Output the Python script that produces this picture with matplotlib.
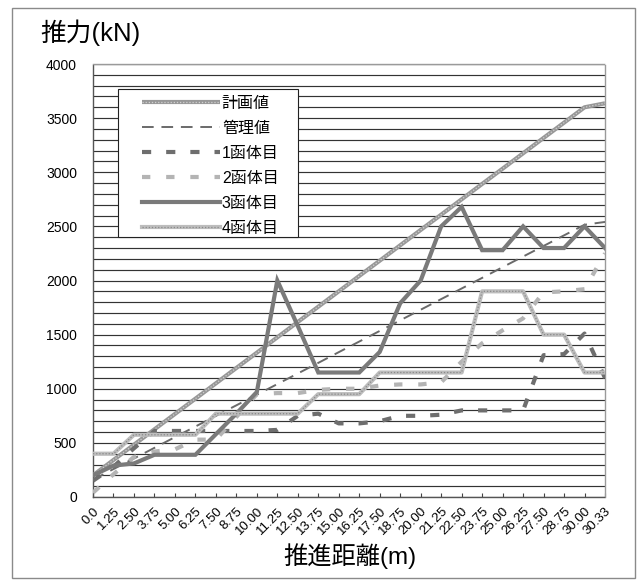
import matplotlib
matplotlib.use('Agg')
import matplotlib.pyplot as plt
import numpy as np
from matplotlib.legend_handler import HandlerTuple
from matplotlib.patches import Rectangle

plt.rcParams['font.family'] = ['Liberation Sans', 'Noto Sans CJK JP', 'DejaVu Sans']

# ---- data ----
dist_labels = ['0.0', '1.25', '2.50', '3.75', '5.00', '6.25', '7.50', '8.75', '10.00',
               '11.25', '12.50', '13.75', '15.00', '16.25', '17.50', '18.75', '20.00',
               '21.25', '22.50', '23.75', '25.00', '26.25', '27.50', '28.75', '30.00', '30.33']

series_names = ['計画値', '管理値', '1函体目', '2函体目', '3函体目', '4函体目']

plan = [200, 342, 483, 625, 767, 908, 1050, 1192, 1333, 1475, 1617, 1758, 1900,
        2042, 2183, 2325, 2467, 2608, 2750, 2892, 3033, 3175, 3317, 3458, 3600, 3637]
control = [160, 258, 356, 454, 553, 651, 749, 847, 945, 1043, 1141, 1239, 1338,
           1436, 1534, 1632, 1730, 1828, 1926, 2024, 2123, 2221, 2319, 2417, 2515, 2541]
unit1 = [150, 280, 450, 610, 610, 610, 610, 610, 610, 620, 750, 770, 680,
         680, 700, 750, 750, 760, 800, 800, 800, 800, 1310, 1320, 1510, 1100]
unit2 = [40, 210, 370, 420, 440, 530, 530, 740, 950, 960, 960, 990, 1000,
         1000, 1030, 1040, 1040, 1060, 1250, 1420, 1540, 1650, 1890, 1900, 1920, 2250]
unit3 = [200, 290, 310, 390, 390, 390, 580, 770, 970, 2000, 1580, 1150, 1150,
         1150, 1340, 1790, 2000, 2500, 2680, 2280, 2280, 2500, 2300, 2300, 2500, 2300]
unit4 = [400, 400, 575, 575, 575, 575, 770, 770, 770, 770, 770, 950, 950,
         950, 1150, 1150, 1150, 1150, 1150, 1900, 1900, 1900, 1500, 1500, 1150, 1150]

y_major = [0, 500, 1000, 1500, 2000, 2500, 3000, 3500, 4000]

W, H = 639, 581

# ---- figure ----
fig = plt.figure(figsize=(W / 100, H / 100), dpi=100)
fig.patches.append(Rectangle((12 / W, 3 / H), 623 / W, 570 / H, transform=fig.transFigure,
                             fill=False, edgecolor='#8a8a8a', linewidth=1.0))

ax = fig.add_axes([93 / W, 1 - 497 / H, 512 / W, 433 / H])
x = np.arange(len(dist_labels))

# gridlines every 100
ax.set_yticks(np.arange(0, 4001, 100), minor=True)
ax.set_yticks(y_major)
ax.grid(True, axis='y', which='both', color='#333333', linewidth=0.85)
ax.set_axisbelow(True)

h_plan_a, = ax.plot(x, plan, color='#989898', linewidth=3.0, solid_capstyle='butt', zorder=3)
h_plan_b, = ax.plot(x, plan, color='#d0d0d0', linewidth=0.9, linestyle=(0, (1, 1.5)), zorder=3.1)
h_ctrl, = ax.plot(x, control, color='#6a6a6a', linewidth=1.4, linestyle=(0, (6, 4)), zorder=3.2)
h_u1, = ax.plot(x, unit1, color='#6e6e6e', linewidth=3.0, linestyle=(0, (2.2, 3.6)), zorder=3.3)
h_u2, = ax.plot(x, unit2, color='#b4b4b4', linewidth=3.0, linestyle=(0, (2.0, 3.8)), zorder=3.4)
h_u3, = ax.plot(x, unit3, color='#7a7a7a', linewidth=3.0, solid_joinstyle='miter', zorder=3.5)
h_u4a, = ax.plot(x, unit4, color='#bdbdbd', linewidth=3.0, zorder=3.6)
h_u4b, = ax.plot(x, unit4, color='#8a8a8a', linewidth=0.9, linestyle=(0, (1, 1.5)), zorder=3.7)

ax.set_xlim(0, len(dist_labels) - 1)
ax.set_ylim(0, 4000)
ax.set_xticks(x)
ax.set_xticklabels(dist_labels, rotation=45, ha='right', va='top', rotation_mode='anchor', fontsize=9.5)
ax.tick_params(axis='x', direction='in', length=3, width=0.8, color='#444', pad=6)
ax.tick_params(axis='y', which='both', length=0, pad=11.5, labelsize=10)
ax.set_yticklabels([str(v) for v in y_major])

for side, sp in ax.spines.items():
    sp.set_linestyle((0, (2, 1)))
    sp.set_linewidth(1.0)
    sp.set_color('#555555' if side in ('left', 'bottom') else '#9a9a9a')

# legend box drawn explicitly, legend itself frameless
ax.add_patch(Rectangle((118 / W, 1 - 237 / H), 180 / W, 148 / H, transform=fig.transFigure,
                       facecolor='white', edgecolor='#222222', linewidth=0.8, zorder=4.8,
                       clip_on=False))
leg = ax.legend([(h_plan_a, h_plan_b), h_ctrl, h_u1, h_u2, h_u3, (h_u4a, h_u4b)], series_names,
                handler_map={tuple: HandlerTuple(ndivide=1)},
                loc='upper left', bbox_to_anchor=(142 / W, 1 - 96 / H),
                bbox_transform=fig.transFigure, borderaxespad=0, borderpad=0,
                fontsize=11.5, handlelength=4.9, handletextpad=0.1, labelspacing=0.62,
                frameon=False)
leg.set_zorder(5)

fig.text(40 / W, 1 - 33 / H, '推力(kN)', fontsize=18.5, ha='left', va='center')
fig.text(350 / W, 1 - 556 / H, '推進距離(m)', fontsize=17.5, ha='center', va='center')

fig.savefig('out.png', dpi=100)
